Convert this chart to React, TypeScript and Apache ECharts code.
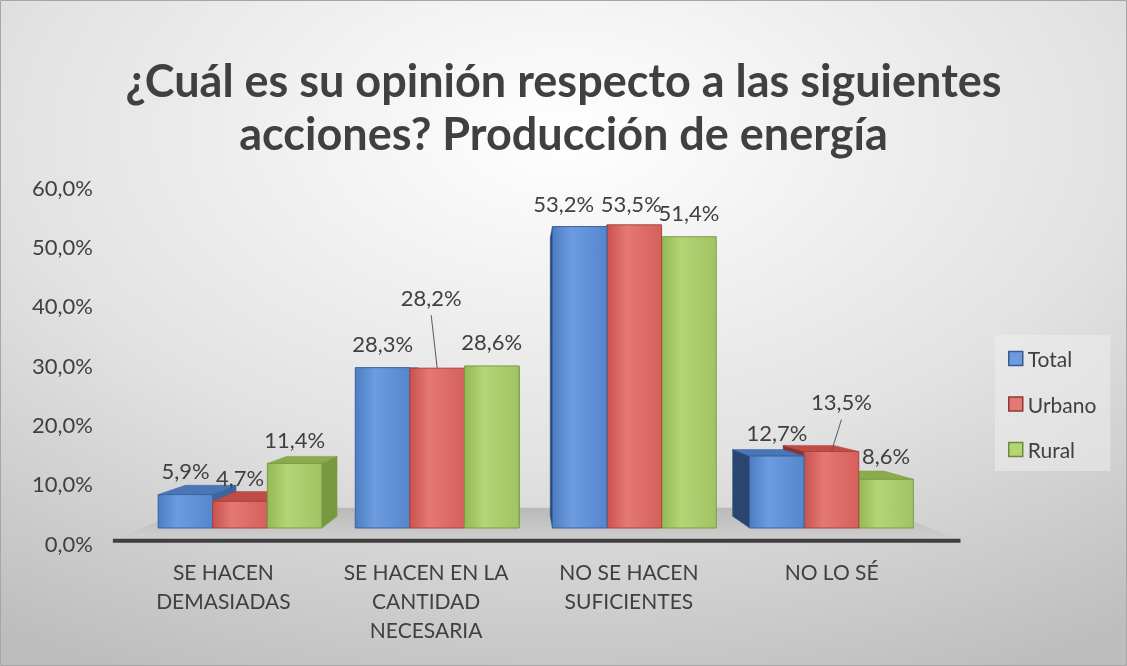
import React, { useEffect, useRef } from "react";
import * as echarts from "echarts";

const categories = [
  "SE HACEN\nDEMASIADAS",
  "SE HACEN EN LA\nCANTIDAD\nNECESARIA",
  "NO SE HACEN\nSUFICIENTES",
  "NO LO SÉ",
];
const seriesNames = ["Total", "Urbano", "Rural"];
const totalValues = [5.9, 28.3, 53.2, 12.7];
const urbanoValues = [4.7, 28.2, 53.5, 13.5];
const ruralValues = [11.4, 28.6, 51.4, 8.6];
const yTicks = [0, 10, 20, 30, 40, 50, 60];

const TITLE = "¿Cuál es su opinión respecto a las siguientes\nacciones? Producción de energía";
const FONT = "Lato";
const TEXT = "#404040";

// style: faces per series
const FACES = [
  { front: ["#4d7dc2", "#6c9be0", "#5586cc"], side: "#3e659e", sideL: "#2a4670", top: "#4a76b8", edge: "#3a639c", legendBorder: "#385d8a" },
  { front: ["#c9524e", "#e57874", "#d5605c"], side: "#a3403d", sideL: "#8a3431", top: "#c04b47", edge: "#a84541", legendBorder: "#8c3836" },
  { front: ["#94b955", "#b3d575", "#a0c463"], side: "#789a3e", sideL: "#647f33", top: "#8aac4c", edge: "#7b9b42", legendBorder: "#71893f" },
];
// label placement tweaks (styling only)
const LEADERS: Record<string, { dx: number; lift: number; line: boolean }> = {
  "1:1": { dx: -6, lift: 71, line: true },
  "1:3": { dx: 10, lift: 50, line: true },
  "0:2": { dx: -16, lift: 23, line: false },
  "1:2": { dx: -3, lift: 21, line: false },
};
const BAR_FRAC = 0.277;
const VP_X = 0.484;
const VP_Y = 0.535;
const K = 0.075;
const LABEL_LIFT = 24;

const fmt = (v: number) => v.toFixed(1).replace(".", ",") + "%";

function makeBarRender(s: number) {
  const f = FACES[s];
  return (params: any, api: any) => {
    const i = api.value(0);
    const v = api.value(1);
    const [cx, yTop] = api.coord([i, v]);
    const yBot = api.coord([i, 0])[1];
    const bw = api.size([1, 0])[0];
    const barW = bw * BAR_FRAC;
    const xl = cx - 1.5 * barW + s * barW;
    const xr = xl + barW;
    const cs = params.coordSys;
    const vpx = cs.x + cs.width * VP_X;
    const vpy = cs.y + cs.height * VP_Y;
    const P = (x: number, y: number) => [x + K * (vpx - x), y + K * (vpy - y)];
    const mid = (xl + xr) / 2;
    const base = Math.round(2000 - Math.abs(mid - vpx)) * 4;
    const children: any[] = [];
    if (P(xl, yTop)[1] < yTop) {
      children.push({
        type: "polygon",
        z2: base,
        shape: { points: [[xl, yTop], [xr, yTop], P(xr, yTop), P(xl, yTop)] },
        style: { fill: f.top, stroke: f.edge, lineWidth: 0.5 },
      });
    }
    if (xr < vpx) {
      children.push({
        type: "polygon",
        z2: base + 1,
        shape: { points: [[xr, yTop], [xr, yBot], P(xr, yBot), P(xr, yTop)] },
        style: { fill: f.side, stroke: f.edge, lineWidth: 0.5 },
      });
    } else if (xl > vpx) {
      children.push({
        type: "polygon",
        z2: base + 1,
        shape: { points: [[xl, yTop], [xl, yBot], P(xl, yBot), P(xl, yTop)] },
        style: { fill: f.sideL, stroke: f.edge, lineWidth: 0.5 },
      });
    }
    children.push({
      type: "rect",
      z2: base + 2,
      shape: { x: xl, y: yTop, width: barW, height: yBot - yTop },
      style: {
        fill: {
          type: "linear", x: 0, y: 0, x2: 1, y2: 0,
          colorStops: [
            { offset: 0, color: f.front[0] },
            { offset: 0.35, color: f.front[1] },
            { offset: 1, color: f.front[2] },
          ],
        },
        stroke: f.edge,
        lineWidth: 1,
      },
    });
    const lead = LEADERS[s + ":" + i];
    const lx = mid + (lead ? lead.dx : 0);
    const ly = yTop - (lead ? lead.lift : LABEL_LIFT);
    if (lead && lead.line) {
      children.push({
        type: "line",
        z2: 100000,
        shape: { x1: lx, y1: ly + 18, x2: mid, y2: yTop },
        style: { stroke: "#595959", lineWidth: 1 },
      });
    }
    children.push({
      type: "text",
      z2: 100001,
      x: lx,
      y: ly,
      style: {
        text: fmt(v),
        fill: TEXT,
        fontSize: 22,
        fontFamily: FONT,
        align: "center",
        verticalAlign: "middle",
      },
    });
    return { type: "group", children };
  };
}

function floorRender(params: any) {
  const cs = params.coordSys;
  const vpx = cs.x + cs.width * VP_X;
  const vpy = cs.y + cs.height * VP_Y;
  const P = (x: number, y: number, t: number) => [x + t * K * (vpx - x), y + t * K * (vpy - y)];
  const x0 = cs.x;
  const x1 = cs.x + cs.width;
  const yb = cs.y + cs.height;
  const fl = P(x0, yb, -1);
  const fr = P(x1, yb, -1);
  const bl = P(x0, yb, 1.7);
  const br = P(x1, yb, 1.7);
  return {
    type: "group",
    children: [
      {
        type: "polygon",
        shape: { points: [fl, fr, br, bl] },
        style: {
          fill: {
            type: "linear", x: 0, y: 0, x2: 0, y2: 1,
            colorStops: [
              { offset: 0, color: "#b9b9b9" },
              { offset: 1, color: "#cfcfcf" },
            ],
          },
        },
      },
      {
        type: "rect",
        shape: { x: fl[0], y: fl[1] - 1, width: fr[0] - fl[0], height: 4 },
        style: { fill: "#3f3f3f" },
      },
    ],
  };
}

export default function App() {
  const ref = useRef<HTMLDivElement>(null);
  useEffect(() => {
    if (!ref.current) return;
    const chart = echarts.init(ref.current, undefined, { renderer: "svg" });
    const values = [totalValues, urbanoValues, ruralValues];
    chart.setOption({
      animation: false,
      title: {
        text: TITLE,
        left: "center",
        top: 48,
        textStyle: { fontSize: 45, fontWeight: "bold", fontFamily: FONT, color: TEXT, lineHeight: 53 },
      },
      graphic: [
        {
          type: "rect",
          silent: true,
          z: -10,
          shape: { x: 0.5, y: 0.5, width: 1126, height: 665 },
          style: {
            fill: {
              type: "radial", x: 0.5, y: 0.2, r: 0.9,
              colorStops: [
                { offset: 0, color: "#ffffff" },
                { offset: 0.55, color: "#e2e2e2" },
                { offset: 1, color: "#bdbdbd" },
              ],
            },
            stroke: "#a6a6a6",
            lineWidth: 1,
          },
        },
      ],
      legend: {
        orient: "vertical",
        left: 995,
        top: 335,
        padding: [13, 14, 11, 13],
        itemGap: 24.5,
        itemWidth: 14,
        itemHeight: 14,
        icon: "rect",
        backgroundColor: "rgba(240,240,240,0.5)",
        textStyle: { fontSize: 21, fontFamily: FONT, color: TEXT, lineHeight: 21 },
        data: seriesNames.map((n, s) => ({
          name: n,
          itemStyle: { color: FACES[s].front[1], borderColor: FACES[s].legendBorder, borderWidth: 1.5 },
        })),
      },
      grid: [
        { left: 122, right: 194, top: 187, bottom: 123 },
        { left: 141.5, right: 197, top: 188, bottom: 138 },
      ],
      xAxis: [
        {
          type: "category",
          gridIndex: 0,
          data: categories,
          axisLine: { show: false },
          axisTick: { show: false },
          axisLabel: { interval: 0, fontSize: 21, fontFamily: FONT, color: TEXT, lineHeight: 29, margin: 14 },
        },
        { type: "category", gridIndex: 1, data: categories, show: false },
      ],
      yAxis: [
        {
          type: "value",
          gridIndex: 0,
          min: yTicks[0],
          max: yTicks[yTicks.length - 1],
          interval: 10,
          splitLine: { show: false },
          axisLine: { show: false },
          axisTick: { show: false },
          axisLabel: { fontSize: 22, fontFamily: FONT, color: TEXT, margin: 29, formatter: (v: number) => fmt(v) },
        },
        { type: "value", gridIndex: 1, min: 0, max: 60, show: false },
      ],
      series: [
        {
          type: "custom",
          name: "floor",
          xAxisIndex: 1,
          yAxisIndex: 1,
          z: 1,
          silent: true,
          renderItem: floorRender,
          data: [[0, 0]],
        },
        ...seriesNames.map((n, s) => ({
          type: "custom",
          name: n,
          xAxisIndex: 1,
          yAxisIndex: 1,
          z: 2,
          itemStyle: { color: FACES[s].front[1] },
          encode: { x: 0, y: 1 },
          renderItem: makeBarRender(s),
          data: values[s].map((v, i) => [i, v]),
        })),
      ],
    });
    return () => chart.dispose();
  }, []);
  return <div ref={ref} style={{ position: "fixed", left: 0, top: 0, width: 1127, height: 666 }} />;
}
